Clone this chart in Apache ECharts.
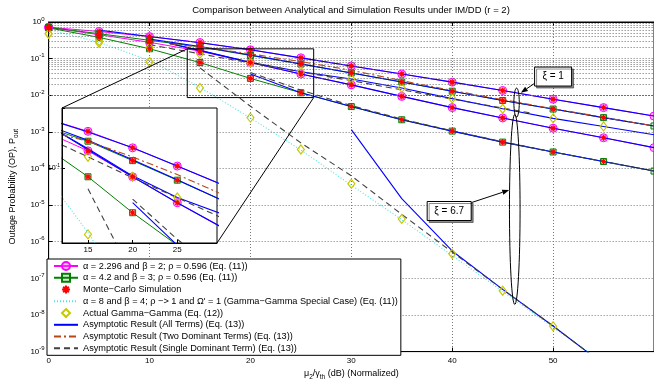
<!DOCTYPE html>
<html>
<head>
<meta charset="utf-8">
<script src="https://cdn.jsdelivr.net/npm/echarts@6/dist/echarts.min.js"></script>
<style>
  html, body { margin: 0; padding: 0; background: #fff; }
  #chart { width: 654px; height: 386px; }
</style>
</head>
<body>
<div id="chart"></div>
<script>
// ---- data (SNR in dB, outage probability) ----
const snrExact = [0, 5, 10, 15, 20, 25, 30, 35, 40, 45, 50, 55, 60]
// Eq. (11): alpha = 2.296, beta = 2
const opAlpha2Xi1 = [0.72, 0.55, 0.40, 0.275, 0.174, 0.105, 0.063, 0.038, 0.0228, 0.0135, 0.0078, 0.0046, 0.0027]
const opAlpha2Xi67 = [0.71, 0.45, 0.279, 0.16, 0.078, 0.038, 0.0192, 0.0093, 0.0046, 0.0024, 0.00126, 0.00069, 0.00037]
// Eq. (11): alpha = 4.2, beta = 3
const opAlpha4Xi1 = [0.71, 0.48, 0.316, 0.209, 0.122, 0.071, 0.0407, 0.0229, 0.0129, 0.0072, 0.0042, 0.00245, 0.00145]
const opAlpha4Xi67 = [0.69, 0.38, 0.186, 0.078, 0.0288, 0.0117, 0.0049, 0.00214, 0.00105, 0.000525, 0.000282, 0.000155, 0.000085]

// Monte-Carlo points sit on the analytical curves (0..55 dB)
const snrMC = [0, 5, 10, 15, 20, 25, 30, 35, 40, 45, 50, 55]

// Gamma-Gamma special case (alpha = 8, beta = 4), xi = 6.7
const snrGGSpecial = [0, 5, 10, 15, 20, 25, 30, 35, 40, 45, 50, 55]
const ggSpecialXi67 = [0.62, 0.28, 0.089, 0.0166, 0.0024, 3.2e-4, 3.5e-5, 4.0e-6, 4.2e-7, 4.4e-8, 4.6e-9, 5e-10]

// Actual Gamma-Gamma, Eq. (12)
const snrGGXi1 = [0, 5, 10, 15, 20, 25, 30, 35, 40, 45, 50, 55]
const ggActualXi1 = [0.48, 0.30, 0.204, 0.136, 0.078, 0.044, 0.0279, 0.0158, 0.0081, 0.0043, 0.00234, 0.00141]
const snrGGXi67 = [0, 5, 10, 15, 20, 25, 30, 35, 40, 45, 50]
const ggActualXi67 = [0.48, 0.27, 0.081, 0.0158, 0.00245, 3.3e-4, 3.85e-5, 4.2e-6, 4.7e-7, 4.6e-8, 4.9e-9]

// Asymptotic, all terms, Eq. (13)
const snrAsymA2Xi1 = [5, 10, 15, 20, 25, 30, 35, 40, 45, 50, 55, 60]
const asymA2Xi1 = [0.60, 0.40, 0.27, 0.174, 0.105, 0.063, 0.038, 0.0228, 0.0135, 0.0078, 0.0046, 0.0027]
const snrAsymA4Xi1 = [10, 15, 20, 25, 30, 35, 40, 45, 50, 55, 60]
const asymA4Xi1 = [0.34, 0.214, 0.125, 0.072, 0.0407, 0.0229, 0.0129, 0.0072, 0.0042, 0.00245, 0.00145]
const snrAsymGGXi1 = [12, 15, 20, 25, 30, 35, 40, 45, 50, 55, 60]
const asymGGXi1 = [0.26, 0.17, 0.08, 0.044, 0.0279, 0.0158, 0.0081, 0.0043, 0.00234, 0.0014, 0.00083]
const snrAsymA2Xi67 = [12, 15, 20, 25, 30, 35, 40, 45, 50, 55, 60]
const asymA2Xi67 = [0.26, 0.165, 0.078, 0.038, 0.0192, 0.0093, 0.0046, 0.0024, 0.00126, 0.00069, 0.00037]
const snrAsymA4Xi67 = [20, 25, 30, 35, 40, 45, 50, 55, 60]
const asymA4Xi67 = [0.038, 0.0117, 0.0049, 0.00214, 0.00105, 0.000525, 0.000282, 0.000155, 0.000085]
const snrAsymGGXi67 = [30, 35, 40, 45, 50, 55]
const asymGGXi67 = [1.15e-3, 1.5e-5, 5.6e-7, 5e-8, 5e-9, 4.5e-10]

// Asymptotic, two dominant terms
const snrTwoDom = [12, 15, 20, 25, 30, 35, 40, 45, 50, 55, 60]
const twoDomA4Xi1 = [0.25, 0.209, 0.135, 0.083, 0.048, 0.025, 0.0135, 0.0076, 0.0043, 0.0025, 0.00145]

// Asymptotic, single dominant term
const snrOneDomGGXi67 = [15, 20, 25, 30, 35, 40, 45, 50, 55]
const oneDomGGXi67 = [0.056, 5e-3, 5e-4, 6.3e-5, 5.6e-6, 5.2e-7, 5e-8, 5e-9, 4.5e-10]
const snrOneDomA4Xi67 = [20, 25, 30, 35, 40, 45, 50, 55, 60]
const oneDomA4Xi67 = [0.042, 0.0138, 0.0052, 0.00224, 0.00107, 0.000537, 0.000282, 0.000155, 0.000085]
const snrOneDomGGXi1 = [10, 20, 30, 40, 48]
const oneDomGGXi1 = [0.24, 0.076, 0.025, 0.0079, 0.0032]

// ---- names ----
const NAME_A2 = 'α = 2.296 and β = 2; ρ = 0.596 (Eq. (11))'
const NAME_A4 = 'α = 4.2 and β = 3; ρ = 0.596 (Eq. (11))'
const NAME_MC = 'Monte−Carlo Simulation'
const NAME_GGS = "α = 8 and β = 4; ρ −> 1 and Ω' = 1 (Gamma−Gamma Special Case) (Eq. (11))"
const NAME_GGA = 'Actual Gamma−Gamma (Eq. (12))'
const NAME_ALL = 'Asymptotic Result (All Terms) (Eq. (13))'
const NAME_TWO = 'Asymptotic Result (Two Dominant Terms) (Eq. (13))'
const NAME_ONE = 'Asymptotic Result (Single Dominant Term) (Eq. (13))'

// annotation anchors (data coordinates)
const zoomBoxX = [13.74, 26.27]
const zoomBoxY = [0.185, 0.00863]
const insetX = [12.09, 29.45]
const insetY = [Math.pow(10, -1.905), Math.pow(10, -0.28)]
const xi1Note = { text: 'ξ = 1', center: [46.38, 0.0063], rx: 2.7, ry: 14.5, box: [50.0, 0.0324], bw: 37, bh: 19, from: [48.3, 0.0224], to: [46.8, 0.0117] }
const xi67Note = { text: 'ξ = 6.7', center: [46.2, 7.6e-6], rx: 5.3, ry: 95, box: [39.7, 6.9e-6], bw: 44, bh: 19, from: [41.9, 1.17e-5], to: [45.65, 2.57e-5] }

const FONT = 'Liberation Sans, Arial, Helvetica, sans-serif'
const MAGENTA = '#ff00ff'
const GREEN = '#008000'
const BLUE = '#0000ff'
const BROWN = '#b5471b'
const GREY = '#404040'
const CYAN = '#4fe3e3'
const OLIVE = '#c8c800'
const STAR = 'path://M5,0L5,10M0,5L10,5M1.5,1.5L8.5,8.5M8.5,1.5L1.5,8.5'

function pairs(xs, ys) {
    return xs.map((x, i) => [x, ys[i]])
}

function exactLine(name, xs, ys, color, fill, symbol, size) {
    return {
        name: name, type: 'line', data: pairs(xs, ys), z: 3,
        symbol: symbol, symbolSize: size, showAllSymbol: true,
        lineStyle: { color: color, width: 1 },
        itemStyle: { color: fill, borderColor: color, borderWidth: 1 }
    }
}

function plainLine(name, xs, ys, color, type, z) {
    return {
        name: name, type: 'line', data: pairs(xs, ys), z: z, symbol: 'none',
        lineStyle: { color: color, width: 1.1, type: type },
        itemStyle: { color: color }
    }
}

// markers only: a line series whose line is hidden, so the legend shows just the symbol
function marks(name, xs, ys, symbol, size, fill, color, z) {
    return {
        name: name, type: 'line', data: pairs(xs, ys), z: z,
        symbol: symbol, symbolSize: size, showAllSymbol: true,
        lineStyle: { opacity: 0, width: 0 },
        itemStyle: { color: fill, borderColor: color, borderWidth: 1.2 }
    }
}

const baseSeries = [
    plainLine(NAME_GGS, snrGGSpecial, ggSpecialXi67, CYAN, [1, 2], 2),
    exactLine(NAME_A2, snrExact, opAlpha2Xi1, MAGENTA, 'rgba(255,80,255,0.35)', 'circle', 8),
    exactLine(NAME_A2, snrExact, opAlpha2Xi67, MAGENTA, 'rgba(255,80,255,0.35)', 'circle', 8),
    exactLine(NAME_A4, snrExact, opAlpha4Xi1, GREEN, 'rgba(0,128,0,0.15)', 'rect', 6),
    exactLine(NAME_A4, snrExact, opAlpha4Xi67, GREEN, 'rgba(0,128,0,0.15)', 'rect', 6),
    plainLine(NAME_ALL, snrAsymA2Xi1, asymA2Xi1, BLUE, 'solid', 4),
    plainLine(NAME_ALL, snrAsymA4Xi1, asymA4Xi1, BLUE, 'solid', 4),
    plainLine(NAME_ALL, snrAsymGGXi1, asymGGXi1, BLUE, 'solid', 4),
    plainLine(NAME_ALL, snrAsymA2Xi67, asymA2Xi67, BLUE, 'solid', 4),
    plainLine(NAME_ALL, snrAsymA4Xi67, asymA4Xi67, BLUE, 'solid', 4),
    plainLine(NAME_ALL, snrAsymGGXi67, asymGGXi67, BLUE, 'solid', 4),
    plainLine(NAME_TWO, snrTwoDom, twoDomA4Xi1, BROWN, [7, 3, 2, 3], 5),
    plainLine(NAME_ONE, snrOneDomGGXi67, oneDomGGXi67, GREY, [6, 4], 5),
    plainLine(NAME_ONE, snrOneDomA4Xi67, oneDomA4Xi67, GREY, [6, 4], 5),
    plainLine(NAME_ONE, snrOneDomGGXi1, oneDomGGXi1, GREY, [6, 4], 5),
    marks(NAME_GGA, snrGGXi1, ggActualXi1, 'diamond', [7, 9], 'rgba(255,255,255,0)', OLIVE, 6),
    marks(NAME_GGA, snrGGXi67, ggActualXi67, 'diamond', [7, 9], 'rgba(255,255,255,0)', OLIVE, 6),
    marks(NAME_MC, snrMC, opAlpha2Xi1.slice(0, 12), STAR, 6, '#ff0000', '#ff0000', 7),
    marks(NAME_MC, snrMC, opAlpha2Xi67.slice(0, 12), STAR, 6, '#ff0000', '#ff0000', 7),
    marks(NAME_MC, snrMC, opAlpha4Xi1.slice(0, 12), STAR, 6, '#ff0000', '#ff0000', 7),
    marks(NAME_MC, snrMC, opAlpha4Xi67.slice(0, 12), STAR, 6, '#ff0000', '#ff0000', 7)
]

// minor log grid lines (2..9 x 10^n) on the main axes
const minorGrid = []
for (let n = -9; n < 0; n++) {
    for (let k = 2; k <= 9; k++) minorGrid.push({ yAxis: k * Math.pow(10, n) })
}

const series = [{
    type: 'line', data: [], z: 1, silent: true, xAxisIndex: 0, yAxisIndex: 0,
    markLine: {
        silent: true, symbol: 'none', label: { show: false }, animation: false,
        lineStyle: { color: '#6a6a6a', width: 1, type: [1, 2] },
        data: minorGrid
    }
}]
baseSeries.forEach(s => {
    series.push(Object.assign({}, s, { xAxisIndex: 0, yAxisIndex: 0 }))
    series.push(Object.assign({}, s, { xAxisIndex: 2, yAxisIndex: 1, z: s.z + 10 }))
})

function powLabel(v) {
    const e = Math.log10(v)
    const r = Math.round(e)
    if (Math.abs(e - r) > 1e-6) return ''
    return '10{sup|' + r + '}'
}

const noSymbol = { itemStyle: { opacity: 0 } }
const noLine = { lineStyle: { opacity: 0, width: 0 } }

const chart = echarts.init(document.getElementById('chart'), null, { renderer: 'canvas' })

chart.setOption({
    animation: false,
    backgroundColor: '#fff',
    textStyle: { fontFamily: FONT },
    title: {
        text: 'Comparison between Analytical and Simulation Results under IM/DD (r = 2)',
        left: 351, top: 5, textAlign: 'center', padding: 0,
        textStyle: { fontSize: 9.5, fontWeight: 'normal', color: '#000', fontFamily: FONT }
    },
    grid: [
        { left: 44, top: 22, right: -4, bottom: 28, show: true, borderColor: '#000', borderWidth: 1, backgroundColor: 'transparent' },
        { left: 62, top: 108, width: 155, height: 135, show: true, borderColor: '#000', borderWidth: 1, backgroundColor: '#fff', z: 10 }
    ],
    xAxis: [
        {
            type: 'value', gridIndex: 0, min: 0, max: 60, interval: 10,
            name: '{t|μ}{sub|2}{t|/γ}{sub|th}{t| (dB) (Normalized)}', nameLocation: 'middle', nameGap: 13,
            nameTextStyle: {
                color: '#000', fontSize: 9,
                rich: { t: { fontSize: 9, lineHeight: 14, fontFamily: FONT }, sub: { fontSize: 6.5, verticalAlign: 'bottom', lineHeight: 14, fontFamily: FONT } }
            },
            axisLine: { lineStyle: { color: '#000', width: 1 } },
            axisTick: { inside: true, length: 4, lineStyle: { color: '#000' } },
            axisLabel: { color: '#000', fontSize: 8, margin: 5, showMaxLabel: false },
            splitLine: { show: true, lineStyle: { color: '#777', type: [1, 2], width: 1 } }
        },
        {
            type: 'value', gridIndex: 0, position: 'top', min: 0, max: 60, interval: 10,
            axisLine: { lineStyle: { color: '#000' } },
            axisTick: { inside: true, length: 4, lineStyle: { color: '#000' } },
            axisLabel: { show: false }, splitLine: { show: false }
        },
        {
            type: 'value', gridIndex: 1, min: insetX[0], max: insetX[1], z: 18,
            axisLine: { lineStyle: { color: '#000' } },
            axisTick: { inside: true, length: 3, customValues: [15, 20, 25], lineStyle: { color: '#000' } },
            axisLabel: { color: '#000', fontSize: 8, margin: 3, customValues: [15, 20, 25] },
            splitLine: { show: false }
        }
    ],
    yAxis: [
        {
            type: 'log', logBase: 10, gridIndex: 0, min: 1e-9, max: 1, splitNumber: 9,
            name: '{t|Outage Probability (OP), P}{sub|out}', nameLocation: 'middle', nameGap: 26, nameRotate: 90,
            nameTextStyle: {
                color: '#000', fontSize: 9,
                rich: { t: { fontSize: 9, lineHeight: 14, fontFamily: FONT }, sub: { fontSize: 6.5, verticalAlign: 'bottom', lineHeight: 14, fontFamily: FONT } }
            },
            axisLine: { lineStyle: { color: '#000', width: 1 } },
            axisTick: { inside: true, length: 4, lineStyle: { color: '#000' } },
            axisLabel: {
                color: '#000', fontSize: 8, margin: 4, formatter: powLabel,
                rich: { sup: { fontSize: 6, verticalAlign: 'top', lineHeight: 12, fontFamily: FONT } }
            },
            splitLine: { show: true, lineStyle: { color: '#777', type: [1, 2], width: 1 } }
        },
        {
            type: 'log', logBase: 10, gridIndex: 1, min: insetY[0], max: insetY[1], z: 18,
            axisLine: { lineStyle: { color: '#000' } },
            axisTick: { inside: true, length: 3, lineStyle: { color: '#000' } },
            axisLabel: {
                color: '#000', fontSize: 7, margin: 2, formatter: powLabel,
                rich: { sup: { fontSize: 5, verticalAlign: 'top', lineHeight: 10, fontFamily: FONT } }
            },
            splitLine: { show: false }
        }
    ],
    legend: {
        data: [
            { name: NAME_A2 },
            { name: NAME_A4 },
            Object.assign({ name: NAME_MC }, noLine),
            Object.assign({ name: NAME_GGS }, noSymbol),
            Object.assign({ name: NAME_GGA }, noLine),
            Object.assign({ name: NAME_ALL }, noSymbol),
            Object.assign({ name: NAME_TWO }, noSymbol),
            Object.assign({ name: NAME_ONE }, noSymbol)
        ],
        orient: 'vertical', left: 47, top: 259, z: 40,
        padding: [2, 3, 2, 6], itemGap: 1.76, itemWidth: 24, itemHeight: 10,
        backgroundColor: '#fff', borderColor: '#000', borderWidth: 1,
        selectedMode: false,
        textStyle: { fontSize: 9.2, color: '#000', lineHeight: 10, fontFamily: FONT }
    },
    series: series
})

// ---- zoom box, connectors and xi annotations, placed through the axes ----
function toPx(gi, p) {
    return chart.convertToPixel({ gridIndex: gi }, p)
}

function arrow(from, to) {
    const a = toPx(0, from), b = toPx(0, to)
    const ang = Math.atan2(b[1] - a[1], b[0] - a[0])
    const L = 7, W = 2.6
    const bx = b[0] - L * Math.cos(ang), by = b[1] - L * Math.sin(ang)
    return [
        { type: 'line', z: 30, shape: { x1: a[0], y1: a[1], x2: bx, y2: by }, style: { stroke: '#000', lineWidth: 1 } },
        {
            type: 'polygon', z: 30,
            shape: { points: [[b[0], b[1]], [bx - W * Math.sin(ang), by + W * Math.cos(ang)], [bx + W * Math.sin(ang), by - W * Math.cos(ang)]] },
            style: { fill: '#000' }
        }
    ]
}

function note(n) {
    const c = toPx(0, n.center)
    const b = toPx(0, n.box)
    return [
        { type: 'ellipse', z: 30, shape: { cx: c[0], cy: c[1], rx: n.rx, ry: n.ry }, style: { fill: 'none', stroke: '#000', lineWidth: 1 } },
        {
            type: 'rect', z: 31, shape: { x: b[0] - n.bw / 2, y: b[1] - n.bh / 2, width: n.bw, height: n.bh },
            style: { fill: '#fff', stroke: '#000', lineWidth: 1, shadowColor: 'rgba(0,0,0,0.45)', shadowOffsetX: 2, shadowOffsetY: 2, shadowBlur: 0 }
        },
        { type: 'text', z: 32, x: b[0], y: b[1], style: { text: n.text, fill: '#000', font: '10px ' + FONT, align: 'center', verticalAlign: 'middle' } }
    ].concat(arrow(n.from, n.to))
}

const boxTL = toPx(0, [zoomBoxX[0], zoomBoxY[0]])
const boxBR = toPx(0, [zoomBoxX[1], zoomBoxY[1]])
const inTL = toPx(1, [insetX[0], insetY[1]])
const inBR = toPx(1, [insetX[1], insetY[0]])

chart.setOption({
    graphic: {
        elements: [
            { type: 'rect', z: 30, shape: { x: boxTL[0], y: boxTL[1], width: boxBR[0] - boxTL[0], height: boxBR[1] - boxTL[1] }, style: { fill: 'none', stroke: '#000', lineWidth: 1 } },
            { type: 'line', z: 30, shape: { x1: inTL[0], y1: inTL[1], x2: boxTL[0], y2: boxTL[1] }, style: { stroke: '#000', lineWidth: 1 } },
            { type: 'line', z: 30, shape: { x1: inBR[0], y1: inBR[1], x2: boxBR[0], y2: boxBR[1] }, style: { stroke: '#000', lineWidth: 1 } }
        ].concat(note(xi1Note), note(xi67Note))
    }
})
</script>
</body>
</html>
